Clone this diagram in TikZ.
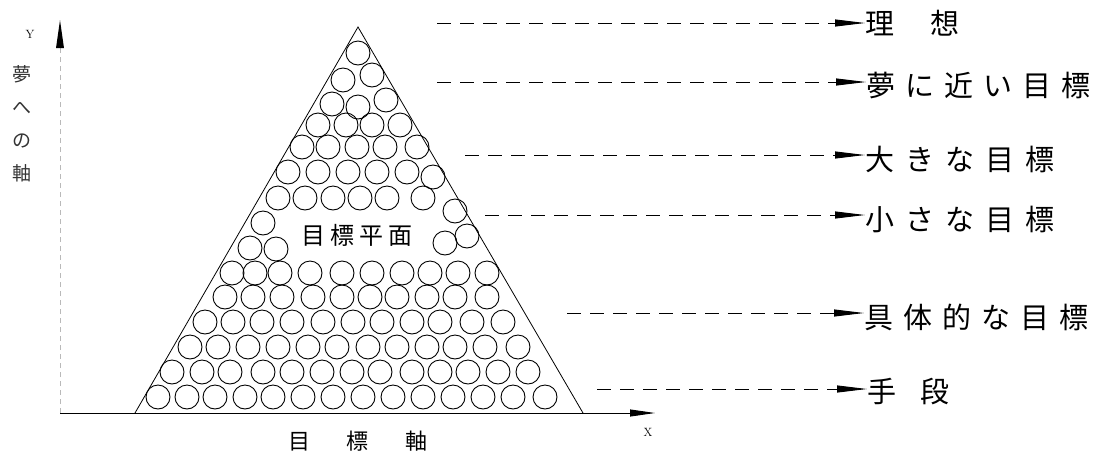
\documentclass[tikz,border=0pt]{standalone}
\usepackage{fontspec}
\newfontfamily\cjk{Noto Sans CJK JP}
\usetikzlibrary{arrows.meta}
\begin{document}
\begin{tikzpicture}[x=1pt,y=-1pt,
  ball/.style={line width=0.9pt},
  lbl/.style={anchor=west,inner sep=0pt,font=\cjk\fontsize{29}{29}\selectfont},
  dasharrow/.style={line width=0.9pt,dash pattern=on 14pt off 9pt,-{Triangle[length=30pt,width=7pt]}},
  axis/.style={line width=0.9pt}]
\useasboundingbox (0,0) rectangle (1101,459);
% triangle
\draw[line width=0.8pt] (135,413) -- (358,27) -- (583,413);
% balls
\foreach \y/\xs in {
  397/{158,187,215,245,273,303,333,363,393,423,453,483,513,545},
  372/{172,202,230,263,292,322,352,380,412,440,468,498,528},
  347/{190,218,248,278,308,337,368,397,427,455,485,518},
  322/{205,233,262,292,323,353,382,412,440,472,503},
  297/{225,253,282,313,342,370,397,427,455,487},
  273/{232,255,280,310,342,372,402,430,458,487},
  198/{278,305,333,360,387,423},
  172/{288,318,348,377,407},
  147/{302,328,357,385,417},
  125/{318,346,372,400}}
  {\foreach \x in \xs {\draw[ball] (\x,\y) circle[radius=12];}}
\foreach \x/\y in {250/248,276/249,263/223,445/243,467/236,455/211,433/177,
  332/104,358/107,386/100,343/80,372/75,358/53}
  {\draw[ball] (\x,\y) circle[radius=12];}
\node[inner sep=0pt,font=\cjk\fontsize{24}{24}\selectfont] (plane) at (357,235) {目\kern5pt 標\kern5pt 平\kern5pt 面};
% axes
\coordinate (O) at (60,413);
\coordinate (Xend) at (655,413);
\coordinate (Yend) at (60,20);
\draw[axis,-{Triangle[length=25pt,width=7pt]}] (O) -- (Xend);
\draw[line width=0.7pt,gray!55,dash pattern=on 5pt off 4pt] (O) -- (60,48);
\path[fill=black] (Yend) -- (56,48) -- (64,48) -- cycle;
\node[font=\fontsize{12}{12}\selectfont,inner sep=0pt] (xl) at (648,432) {X};
\node[font=\fontsize{12}{12}\selectfont,inner sep=0pt] (yl) at (30,34) {Y};
\node[inner sep=0pt,font=\cjk\fontsize{22}{22}\selectfont] (xname) at (358,441) {目\kern37pt 標\kern37pt 軸};
\node[inner sep=0pt,align=center,font=\cjk\fontsize{19}{33}\selectfont,text=black!80] (yname) at (22,124) {夢\\へ\\の\\軸};
% labels
\node[lbl] (l1) at (865,23) {理\kern36pt 想};
\node[lbl] (l2) at (866,86) {夢\kern10pt に\kern10pt 近\kern10pt い\kern10pt 目\kern10pt 標};
\node[lbl] (l3) at (865,159) {大\kern11pt き\kern11pt な\kern11pt 目\kern11pt 標};
\node[lbl] (l4) at (865,219) {小\kern11pt さ\kern11pt な\kern11pt 目\kern11pt 標};
\node[lbl] (l5) at (864,317) {具\kern10pt 体\kern10pt 的\kern10pt な\kern10pt 目\kern10pt 標};
\node[lbl] (l6) at (867,392) {手\kern24pt 段};
\coordinate (s1) at (437,23);
\coordinate (s2) at (437,82);
\coordinate (s3) at (465,155);
\coordinate (s4) at (485,215);
\coordinate (s5) at (567,313);
\coordinate (s6) at (597,389);
\draw[dasharrow] (s1) -- (s1 -| l1.west);
\draw[dasharrow] (s2) -- (s2 -| l2.west);
\draw[dasharrow] (s3) -- (s3 -| l3.west);
\draw[dasharrow] (s4) -- (s4 -| l4.west);
\draw[dasharrow] (s5) -- (s5 -| l5.west);
\draw[dasharrow] (s6) -- (s6 -| l6.west);
\end{tikzpicture}
\end{document}
